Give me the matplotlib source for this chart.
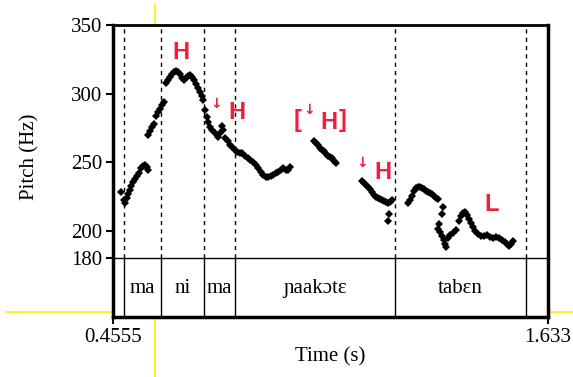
import matplotlib
matplotlib.use("Agg")
import matplotlib.pyplot as plt
from matplotlib.lines import Line2D

# time window of the praat picture
t_start = 0.4555
t_end = 1.633

# syllable tier
boundaries = [0.4853, 0.5854, 0.7018, 0.7858, 1.2189, 1.5735]
syllables = ["ma", "ni", "ma", "ɲaakɔtɛ", "tabɛn"]

# pitch track (s, Hz), one list per stretch of voicing
ma1_t = [0.4772, 0.4853, 0.4880, 0.4934, 0.4961, 0.5015, 0.5042, 0.5096, 0.5151,
         0.5205, 0.5259, 0.5313, 0.5367, 0.5421, 0.5475, 0.5503]
ma1_hz = [228.2, 222.3, 220.1, 223.8, 226.7, 229.6, 232.5, 235.5, 237.6,
          239.8, 242.0, 245.7, 247.1, 247.9, 246.4, 244.2]

rise_t = [0.5503, 0.5557, 0.5611, 0.5665, 0.5719, 0.5774, 0.5828, 0.5882, 0.5936]
rise_hz = [269.7, 272.7, 275.6, 277.8, 283.6, 286.5, 288.7, 291.6, 293.8]

ni_t = [0.5990, 0.6044, 0.6098, 0.6152, 0.6206, 0.6261, 0.6315, 0.6369, 0.6423,
        0.6477, 0.6531, 0.6585, 0.6640, 0.6694, 0.6748, 0.6802, 0.6856, 0.6910,
        0.6964, 0.6991, 0.7046, 0.7100, 0.7127, 0.7181, 0.7235, 0.7316, 0.7397,
        0.7452, 0.7506, 0.7533, 0.7587, 0.7668, 0.7722, 0.7776, 0.7858, 0.7912,
        0.7993, 0.8047, 0.8128, 0.8210, 0.8264, 0.8345, 0.8426, 0.8480, 0.8562,
        0.8616, 0.8697, 0.8751, 0.8832, 0.8886, 0.8968, 0.9022, 0.9103, 0.9157,
        0.9238, 0.9292, 0.9347]
ni_hz = [307.7, 309.9, 312.1, 314.2, 315.7, 316.4, 315.7, 314.2, 311.3,
         309.9, 311.3, 312.8, 313.5, 312.1, 309.9, 307.0, 304.0, 301.1,
         298.2, 295.3, 288.0, 282.9, 279.2, 275.6, 273.4, 271.2, 268.3,
         271.2, 276.3, 273.4, 267.6, 265.4, 262.4, 261.0, 258.8, 257.3,
         256.6, 256.6, 254.4, 253.0, 251.5, 250.0, 247.9, 245.7, 242.8,
         240.6, 239.1, 239.1, 239.8, 240.6, 242.0, 242.8, 244.2, 245.7,
         244.2, 244.2, 246.4]

naa_t = [0.9996, 1.0051, 1.0105, 1.0159, 1.0213, 1.0267, 1.0321, 1.0375, 1.0429,
         1.0484, 1.0538, 1.0592]
naa_hz = [265.4, 263.9, 262.4, 260.3, 258.8, 258.1, 255.9, 254.4, 253.7,
          253.0, 250.8, 249.3]

te_t = [1.1296, 1.1350, 1.1404, 1.1458, 1.1512, 1.1566, 1.1621, 1.1675, 1.1729,
        1.1783, 1.1837, 1.1891, 1.1945, 1.2000, 1.2054, 1.2108, 1.2027, 1.2000]
te_hz = [236.2, 234.7, 233.3, 231.8, 230.3, 228.2, 226.0, 224.5, 223.8,
         223.0, 222.3, 221.6, 220.9, 220.1, 220.9, 222.3, 212.1, 207.0]

taben_t = [1.2541, 1.2595, 1.2649, 1.2703, 1.2758, 1.2812, 1.2866, 1.2920, 1.2974,
           1.3028, 1.3082, 1.3137, 1.3191, 1.3245, 1.3299, 1.3353,
           1.3489, 1.3461, 1.3380,
           1.3353, 1.3407, 1.3461, 1.3516, 1.3543, 1.3570, 1.3624, 1.3678, 1.3759,
           1.3840,
           1.3922, 1.3976, 1.4030, 1.4084, 1.4138, 1.4192, 1.4246, 1.4301, 1.4355,
           1.4436, 1.4517, 1.4598, 1.4680, 1.4761, 1.4842, 1.4923, 1.5004, 1.5086,
           1.5167, 1.5221, 1.5275, 1.5329, 1.5383]
taben_hz = [220.1, 222.3, 225.2, 228.9, 231.1, 231.8, 231.8, 231.1, 230.3,
            228.9, 228.2, 227.4, 226.7, 225.2, 223.8, 223.0,
            217.2, 212.1, 204.8,
            201.2, 199.0, 196.1, 193.1, 190.2, 188.0, 194.6, 196.8, 198.2,
            200.4,
            207.0, 210.6, 212.8, 213.6, 211.4, 208.5, 205.5, 202.6, 199.7,
            197.5, 196.1, 196.1, 196.8, 195.3, 194.6, 195.3, 194.6, 193.1,
            191.7, 190.2, 188.8, 190.2, 192.4]

# tone marks: (text, time, Hz)
tone_marks = [("H", 0.6382, 329.6), ("H", 0.7904, 286.2), ("[", 0.9563, 280.0),
              ("H", 1.0402, 279.2), ("]", 1.0768, 280.0), ("H", 1.1864, 242.7),
              ("L", 1.4802, 218.7)]
downstep_marks = [(0.7343, 292.4), (0.9869, 288.0), (1.1288, 249.3)]

# praat cursor (yellow lines)
cursor_t = 0.5692


def main():
    serif = ["Liberation Serif", "DejaVu Serif"]
    red = "#f01e3c"
    ymin = 136.95

    fig = plt.figure(figsize=(5.73, 3.77), dpi=100)
    ax = fig.add_axes([113 / 573, 1 - 317 / 377, 435 / 573, 292 / 377])
    ax.set_xlim(t_start, t_end)
    ax.set_ylim(ymin, 350)

    # yellow cursor lines, over the whole window
    fig.add_artist(Line2D([155 / 573, 155 / 573], [0, 1 - 4 / 377], color="#ffee00",
                          lw=1.2, transform=fig.transFigure, zorder=0))
    fig.add_artist(Line2D([6 / 573, 1], [1 - 312 / 377, 1 - 312 / 377], color="#ffee00",
                          lw=1.2, transform=fig.transFigure, zorder=0))

    # tier
    ax.axhline(180, color="k", lw=1)
    for b in boundaries:
        ax.plot([b, b], [180, 350], color="k", lw=1, linestyle=(0, (3, 3)))
        ax.plot([b, b], [ymin, 180], color="k", lw=1)
    for i, s in enumerate(syllables):
        mid = (boundaries[i] + boundaries[i + 1]) / 2
        ax.text(mid, 157.5, s, ha="center", va="center", fontsize=15, family=serif)

    # pitch points
    all_t = ma1_t + rise_t + ni_t + naa_t + te_t + taben_t
    all_hz = ma1_hz + rise_hz + ni_hz + naa_hz + te_hz + taben_hz
    ax.plot(all_t, all_hz, "kD", ms=4.2, mew=0)

    for s, t, f in tone_marks:
        ax.text(t, f, s, ha="center", va="center", color=red, fontsize=17,
                fontweight="bold", family=["Liberation Sans", "DejaVu Sans"])
    for t, f in downstep_marks:
        ax.text(t, f, "↓", ha="center", va="center", color=red, fontsize=10,
                fontweight="bold", family=["DejaVu Sans"])

    ax.set_yticks([180, 200, 250, 300, 350])
    ax.set_xticks([t_start, t_end])
    ax.set_xticklabels(["0.4555", "1.633"])
    ax.tick_params(direction="out", length=5, width=1.5, pad=3, labelsize=15)
    for lab in ax.get_xticklabels() + ax.get_yticklabels():
        lab.set_family(serif)
    for side in ["left", "bottom", "right"]:
        ax.spines[side].set_linewidth(2.5)
    ax.spines["top"].set_linewidth(2)

    fig.text(330 / 573, 1 - 357 / 377, "Time (s)", ha="center", va="center",
             fontsize=15, family=serif)
    fig.text(30 / 573, 1 - 157 / 377, "Pitch (Hz)", ha="center", va="center",
             rotation=90, fontsize=15, family=serif)

    fig.savefig("out.png", dpi=100)


if __name__ == "__main__":
    main()
